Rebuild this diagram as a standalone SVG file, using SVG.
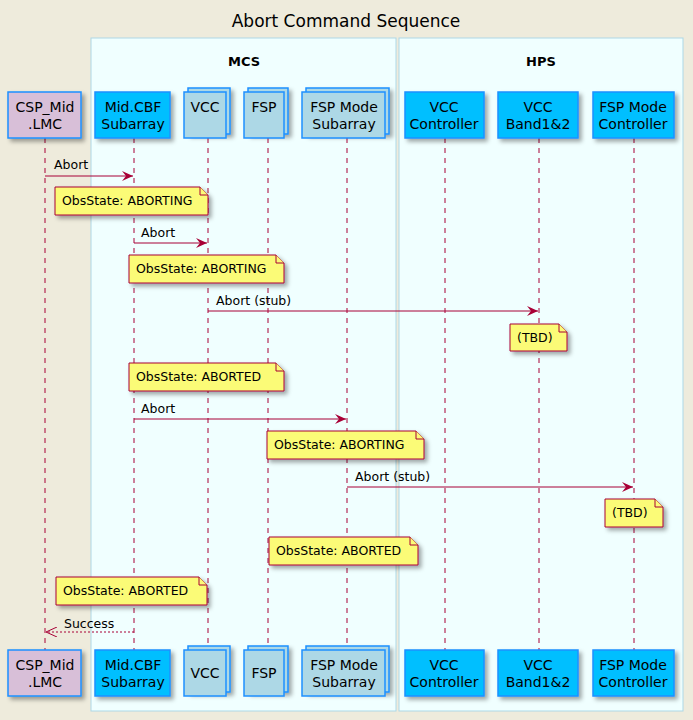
<svg xmlns="http://www.w3.org/2000/svg" width="693" height="720" viewBox="0 0 693 720">
<style>
text{font-family:"DejaVu Sans",sans-serif;fill:#000}
.p{font-size:14px;text-anchor:middle}
.l{font-size:12.5px}
.life{stroke:#A80036;stroke-dasharray:5,5;fill:none}
.box{fill:#F0FFFF;stroke:#ADD8E6}
.pa{stroke:#1E90FF;stroke-width:1.5}
.note{fill:#FBFB77;stroke:#A80036}
.msg{stroke:#A80036;fill:none}
</style>
<defs>
<filter id="sh" x="-20%" y="-20%" width="150%" height="150%"><feDropShadow dx="3" dy="3" stdDeviation="2" flood-color="#000" flood-opacity="0.35"/></filter>
<marker id="ah" markerWidth="12" markerHeight="10" refX="11" refY="5" orient="auto" markerUnits="userSpaceOnUse"><path d="M0,0 L11,5 L0,10 L4,5 Z" fill="#A80036"/></marker>
<marker id="oa" markerWidth="12" markerHeight="10" refX="11" refY="5" orient="auto" markerUnits="userSpaceOnUse"><path d="M0,0 L11,5 L0,10" fill="none" stroke="#A80036"/></marker>
</defs>
<rect width="693" height="720" fill="#EEEBDC"/>
<text x="346" y="27" font-size="17" text-anchor="middle">Abort Command Sequence</text>
<rect class="box" x="91" y="38" width="305" height="673"/>
<rect class="box" x="399" y="38" width="284" height="673"/>
<text x="244" y="66" font-size="13" font-weight="bold" text-anchor="middle">MCS</text>
<text x="541" y="66" font-size="13" font-weight="bold" text-anchor="middle">HPS</text>
<g id="lifelines">
<line class="life" x1="45" y1="138" x2="45" y2="650"/>
<line class="life" x1="134" y1="138" x2="134" y2="650"/>
<line class="life" x1="208" y1="138" x2="208" y2="650"/>
<line class="life" x1="268" y1="138" x2="268" y2="650"/>
<line class="life" x1="347" y1="138" x2="347" y2="650"/>
<line class="life" x1="445" y1="138" x2="445" y2="650"/>
<line class="life" x1="539" y1="138" x2="539" y2="650"/>
<line class="life" x1="634" y1="138" x2="634" y2="650"/>
</g>
<g id="participants-top">
<g id="p-lmc"><rect class="pa" x="8" y="92" width="73" height="46" fill="#D8BFD8" filter="url(#sh)"/><text class="p" x="45" y="112">CSP_Mid</text><text class="p" x="45" y="129">.LMC</text></g>
<g id="p-sub"><rect class="pa" x="95" y="92" width="75" height="46" fill="#00BFFF" filter="url(#sh)"/><text class="p" x="133" y="112">Mid.CBF</text><text class="p" x="133" y="129">Subarray</text></g>
<g id="p-vcc"><rect class="pa" x="188" y="88" width="42" height="46" fill="#ADD8E6" filter="url(#sh)"/><rect class="pa" x="184" y="92" width="42" height="46" fill="#ADD8E6"/><text class="p" x="205" y="112">VCC</text></g>
<g id="p-fsp"><rect class="pa" x="248" y="88" width="40" height="46" fill="#ADD8E6" filter="url(#sh)"/><rect class="pa" x="244" y="92" width="40" height="46" fill="#ADD8E6"/><text class="p" x="264" y="112">FSP</text></g>
<g id="p-fms"><rect class="pa" x="306" y="88" width="83" height="46" fill="#ADD8E6" filter="url(#sh)"/><rect class="pa" x="302" y="92" width="83" height="46" fill="#ADD8E6"/><text class="p" x="344" y="112">FSP Mode</text><text class="p" x="344" y="129">Subarray</text></g>
<g id="p-vccc"><rect class="pa" x="405" y="92" width="79" height="46" fill="#00BFFF" filter="url(#sh)"/><text class="p" x="444" y="112">VCC</text><text class="p" x="444" y="129">Controller</text></g>
<g id="p-band"><rect class="pa" x="498" y="92" width="80" height="46" fill="#00BFFF" filter="url(#sh)"/><text class="p" x="538" y="112">VCC</text><text class="p" x="538" y="129">Band1&amp;2</text></g>
<g id="p-fmc"><rect class="pa" x="593" y="92" width="81" height="46" fill="#00BFFF" filter="url(#sh)"/><text class="p" x="633" y="112">FSP Mode</text><text class="p" x="633" y="129">Controller</text></g>
</g>
<g id="participants-bottom">
<g id="b-lmc"><rect class="pa" x="8" y="650" width="73" height="46" fill="#D8BFD8" filter="url(#sh)"/><text class="p" x="45" y="670">CSP_Mid</text><text class="p" x="45" y="687">.LMC</text></g>
<g id="b-sub"><rect class="pa" x="95" y="650" width="75" height="46" fill="#00BFFF" filter="url(#sh)"/><text class="p" x="133" y="670">Mid.CBF</text><text class="p" x="133" y="687">Subarray</text></g>
<g id="b-vcc"><rect class="pa" x="188" y="646" width="42" height="46" fill="#ADD8E6" filter="url(#sh)"/><rect class="pa" x="184" y="650" width="42" height="46" fill="#ADD8E6"/><text class="p" x="205" y="678">VCC</text></g>
<g id="b-fsp"><rect class="pa" x="248" y="646" width="40" height="46" fill="#ADD8E6" filter="url(#sh)"/><rect class="pa" x="244" y="650" width="40" height="46" fill="#ADD8E6"/><text class="p" x="264" y="678">FSP</text></g>
<g id="b-fms"><rect class="pa" x="306" y="646" width="83" height="46" fill="#ADD8E6" filter="url(#sh)"/><rect class="pa" x="302" y="650" width="83" height="46" fill="#ADD8E6"/><text class="p" x="344" y="670">FSP Mode</text><text class="p" x="344" y="687">Subarray</text></g>
<g id="b-vccc"><rect class="pa" x="405" y="650" width="79" height="46" fill="#00BFFF" filter="url(#sh)"/><text class="p" x="444" y="670">VCC</text><text class="p" x="444" y="687">Controller</text></g>
<g id="b-band"><rect class="pa" x="498" y="650" width="80" height="46" fill="#00BFFF" filter="url(#sh)"/><text class="p" x="538" y="670">VCC</text><text class="p" x="538" y="687">Band1&amp;2</text></g>
<g id="b-fmc"><rect class="pa" x="593" y="650" width="81" height="46" fill="#00BFFF" filter="url(#sh)"/><text class="p" x="633" y="670">FSP Mode</text><text class="p" x="633" y="687">Controller</text></g>
</g>
<g id="connectors">
<line class="msg" x1="45" y1="176" x2="133" y2="176" marker-end="url(#ah)"/><text class="l" x="54" y="169">Abort</text>
<line class="msg" x1="134" y1="243" x2="207" y2="243" marker-end="url(#ah)"/><text class="l" x="141" y="237">Abort</text>
<line class="msg" x1="208" y1="311" x2="538" y2="311" marker-end="url(#ah)"/><text class="l" x="216" y="305">Abort (stub)</text>
<line class="msg" x1="134" y1="419" x2="346" y2="419" marker-end="url(#ah)"/><text class="l" x="141" y="413">Abort</text>
<line class="msg" x1="347" y1="487" x2="633" y2="487" marker-end="url(#ah)"/><text class="l" x="355" y="481">Abort (stub)</text>
<line class="msg" x1="134" y1="632" x2="46" y2="632" stroke-dasharray="2,2" marker-end="url(#oa)"/><text class="l" x="64" y="628">Success</text>
</g>
<g id="notes">
<g filter="url(#sh)"><path class="note" d="M55,187 H200 L208,195 V215 H55 Z"/><path class="note" d="M200,187 V195 H208"/></g><text class="l" x="62" y="205">ObsState: ABORTING</text>
<g filter="url(#sh)"><path class="note" d="M129,255 H276 L284,263 V283 H129 Z"/><path class="note" d="M276,255 V263 H284"/></g><text class="l" x="136" y="273">ObsState: ABORTING</text>
<g filter="url(#sh)"><path class="note" d="M510,324 H559 L567,332 V351 H510 Z"/><path class="note" d="M559,324 V332 H567"/></g><text class="l" x="517" y="342">(TBD)</text>
<g filter="url(#sh)"><path class="note" d="M129,363 H276 L284,371 V391 H129 Z"/><path class="note" d="M276,363 V371 H284"/></g><text class="l" x="136" y="381">ObsState: ABORTED</text>
<g filter="url(#sh)"><path class="note" d="M267,431 H416 L424,439 V459 H267 Z"/><path class="note" d="M416,431 V439 H424"/></g><text class="l" x="274" y="449">ObsState: ABORTING</text>
<g filter="url(#sh)"><path class="note" d="M605,499 H655 L663,507 V527 H605 Z"/><path class="note" d="M655,499 V507 H663"/></g><text class="l" x="612" y="517">(TBD)</text>
<g filter="url(#sh)"><path class="note" d="M269,537 H410 L418,545 V565 H269 Z"/><path class="note" d="M410,537 V545 H418"/></g><text class="l" x="276" y="555">ObsState: ABORTED</text>
<g filter="url(#sh)"><path class="note" d="M56,577 H199 L207,585 V605 H56 Z"/><path class="note" d="M199,577 V585 H207"/></g><text class="l" x="63" y="595">ObsState: ABORTED</text>
</g>
</svg>
